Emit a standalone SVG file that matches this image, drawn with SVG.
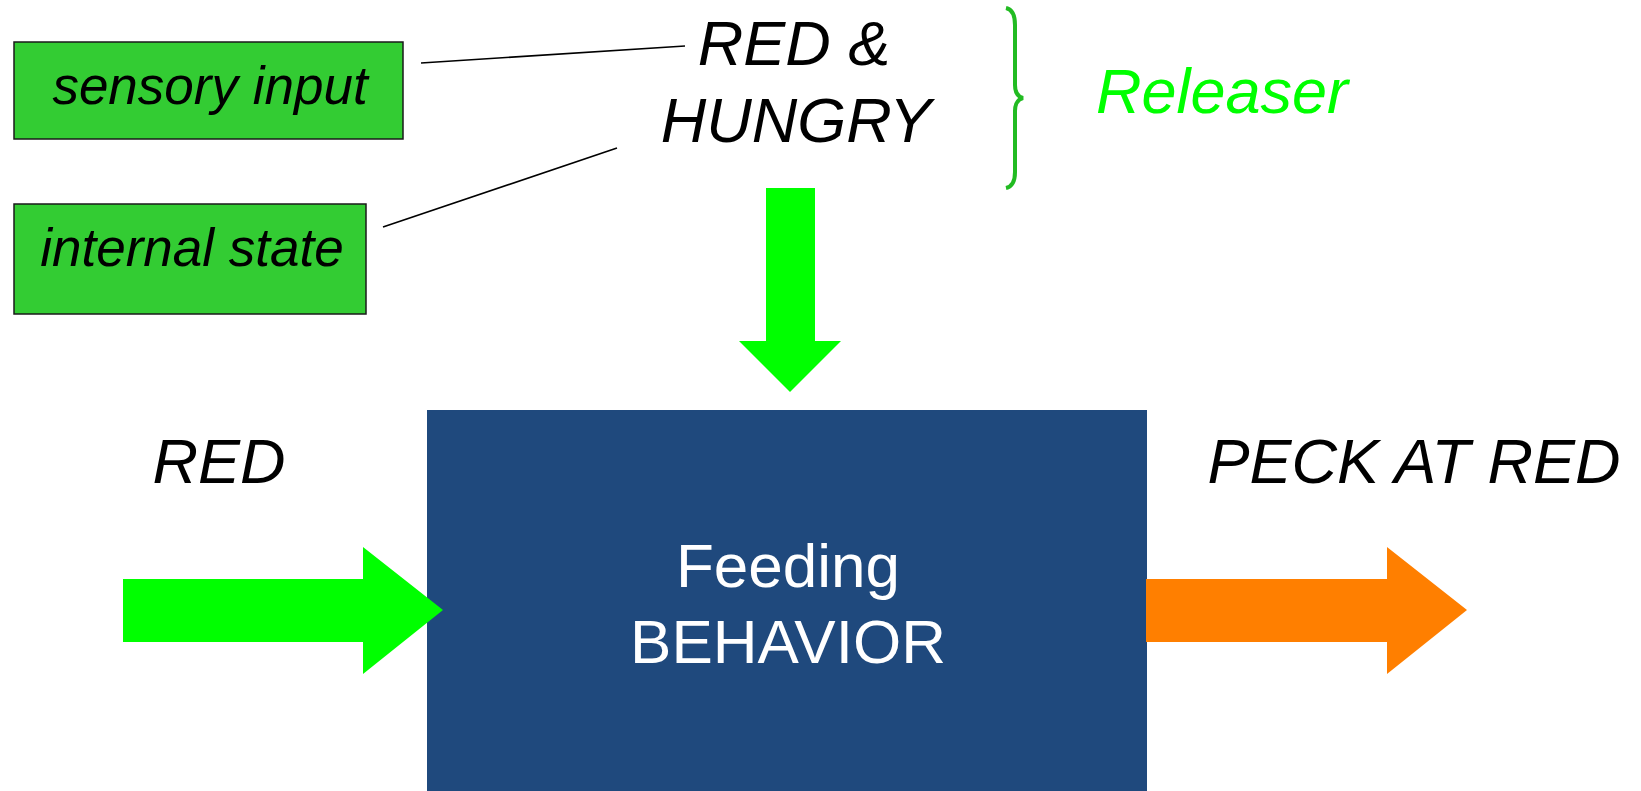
<svg xmlns="http://www.w3.org/2000/svg" width="1641" height="791" viewBox="0 0 1641 791">
<style>
.lbl{font-family:"Liberation Sans",Arial,sans-serif;font-style:italic;fill:#000;text-anchor:middle}
.box{fill:#33cc33;stroke:#1a1a1a;stroke-width:1.5}
.link{stroke:#000;stroke-width:1.6;fill:none}
</style>
<rect width="1641" height="791" fill="#fff"/>
<g id="sensory-input">
<rect class="box" x="14" y="42" width="389" height="97"/>
<text class="lbl" x="210" y="104" font-size="53">sensory input</text>
</g>
<g id="internal-state">
<rect class="box" x="14" y="204" width="352" height="110"/>
<text class="lbl" x="192" y="266" font-size="53">internal state</text>
</g>
<g id="red-hungry">
<text class="lbl" x="794" y="65" font-size="63">RED &amp;</text>
<text class="lbl" x="796" y="142" font-size="63">HUNGRY</text>
</g>
<g id="releaser">
<text class="lbl" x="1222" y="113" font-size="63" style="fill:#00ff00">Releaser</text>
</g>
<g id="feeding-behavior">
<rect x="427" y="410" width="720" height="381" fill="#1f497d"/>
<text x="788" y="587" font-size="62" font-family="Liberation Sans, Arial, sans-serif" fill="#fff" text-anchor="middle">Feeding</text>
<text x="788" y="663" font-size="62" font-family="Liberation Sans, Arial, sans-serif" fill="#fff" text-anchor="middle">BEHAVIOR</text>
</g>
<g id="red-label">
<text class="lbl" x="219" y="483" font-size="63">RED</text>
</g>
<g id="peck-label">
<text class="lbl" x="1414" y="483" font-size="63">PECK AT RED</text>
</g>
<g id="connectors">
<line class="link" x1="421" y1="63" x2="685" y2="46"/>
<line class="link" x1="383" y1="227" x2="617" y2="148"/>
<path id="brace" d="M1006,8 Q1015,10 1015,25 L1015,85 Q1015,96 1023,98 Q1015,100 1015,111 L1015,172 Q1015,186 1006,188" fill="none" stroke="#22bb22" stroke-width="4"/>
<polygon id="arrow-down" points="766,188 815,188 815,341 841,341 790,392 739,341 766,341" fill="#00ff00"/>
<polygon id="arrow-in" points="123,579 363,579 363,547 443,610 363,674 363,642 123,642" fill="#00ff00"/>
<polygon id="arrow-out" points="1146,579 1387,579 1387,547 1467,610 1387,674 1387,642 1146,642" fill="#ff7f00"/>
</g>
</svg>
